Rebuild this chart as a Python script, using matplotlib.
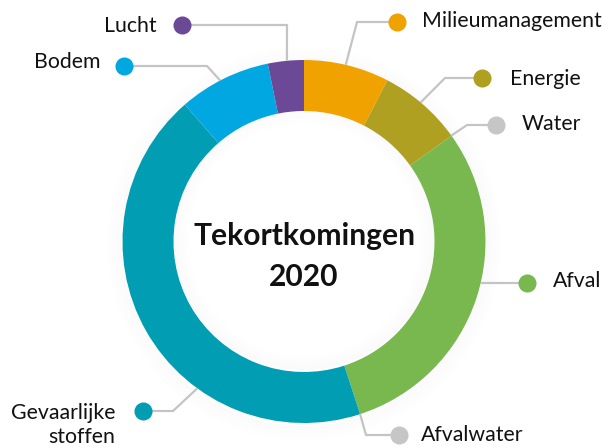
import numpy as np
import matplotlib
matplotlib.use("Agg")
import matplotlib.pyplot as plt
from matplotlib.patches import Wedge

# ---- data ----
categories = ["Milieumanagement", "Energie", "Water", "Afval", "Afvalwater",
              "Gevaarlijke\nstoffen", "Bodem", "Lucht"]
values = [7.6, 7.5, 0.0, 29.9, 0.0, 43.6, 8.2, 3.2]
colors = ["#F0A300", "#AFA022", "#C6C6C6", "#78B84E", "#C6C6C6",
          "#009DB3", "#00A7E0", "#6C4996"]
title_lines = ["Tekortkomingen", "2020"]

# ---- layout (image pixel coords, y down) ----
W, H = 616, 448
CX, CY = 304, 241.5
R, RING = 181.5, 51
# label: (text x, text baseline y, ha, dot x, dot y, elbow x, elbow y, ring angle deg clockwise from top)
layout = {
    "Milieumanagement": (422, 27, "left", 397, 22, 357, 22, 13.3),
    "Energie": (510, 85, "left", 482, 78, 445, 78, 40.0),
    "Water": (522, 130, "left", 496, 125, 467, 125, 54.3),
    "Afval": (553, 287, "left", 527, 283, None, None, 103.0),
    "Afvalwater": (421, 441, "left", 399, 435, 366, 435, 162.0),
    "Gevaarlijke\nstoffen": (115, 443, "right", 143, 411, 173, 411, 216.0),
    "Bodem": (100, 68, "right", 124, 66, 207, 66, 332.5),
    "Lucht": (157, 32, "right", 182, 25, 287, 25, 354.6),
}

plt.rcParams['font.family'] = ['Lato', 'DejaVu Sans']
fig = plt.figure(figsize=(W / 100, H / 100), dpi=100)
ax = fig.add_axes([0, 0, 1, 1])

cyp = H - CY  # plot coords

# subtle shadow
for i in range(12):
    ax.add_patch(Wedge((CX, cyp - 2), R + 1 + (i + 1) * 1.3, 0, 360, width=1.3,
                       color='black', alpha=0.018 * (1 - i / 12), lw=0))
for i in range(12):
    ax.add_patch(Wedge((CX, cyp + 2), R - RING - i * 1.3, 0, 360, width=1.3,
                       color='black', alpha=0.02 * (1 - i / 12), lw=0))

ax.pie(values, colors=colors, startangle=90, counterclock=False,
       center=(CX, cyp), radius=R, frame=True,
       wedgeprops=dict(width=RING, linewidth=0))
ax.set_xlim(0, W)
ax.set_ylim(0, H)
ax.set_aspect('equal')
ax.axis('off')

line_c = "#C4C4C4"
for cat, col in zip(categories, colors):
    tx, ty, ha, dx, dy, ex, ey, ang = layout[cat]
    a = np.deg2rad(ang)
    if ex is None:
        yy = dy - CY
        rx = CX + np.sqrt(R ** 2 - yy ** 2)
        xs = [dx, rx]
        ys = [H - dy, H - dy]
    else:
        rx = CX + R * np.sin(a)
        ry = CY - R * np.cos(a)
        xs = [dx, ex, rx]
        ys = [H - dy, H - ey, H - ry]
    ax.plot(xs, ys, color=line_c, lw=1.6, solid_capstyle='butt', zorder=3)
    ax.plot([dx], [H - dy], 'o', ms=13, color=col, mec='none', zorder=4)
    ax.text(tx, H - ty, cat, ha=ha, va='baseline', fontsize=15.3, color='#111111',
            linespacing=1.25, multialignment='right' if ha == 'right' else 'left')

ax.text(CX, H - 245, title_lines[0], ha='center', va='baseline', fontsize=21.6,
        fontweight='bold', color='#111111')
ax.text(CX, H - 286, title_lines[1], ha='center', va='baseline', fontsize=21.6,
        fontweight='bold', color='#111111')

fig.savefig("out.png", dpi=100)
